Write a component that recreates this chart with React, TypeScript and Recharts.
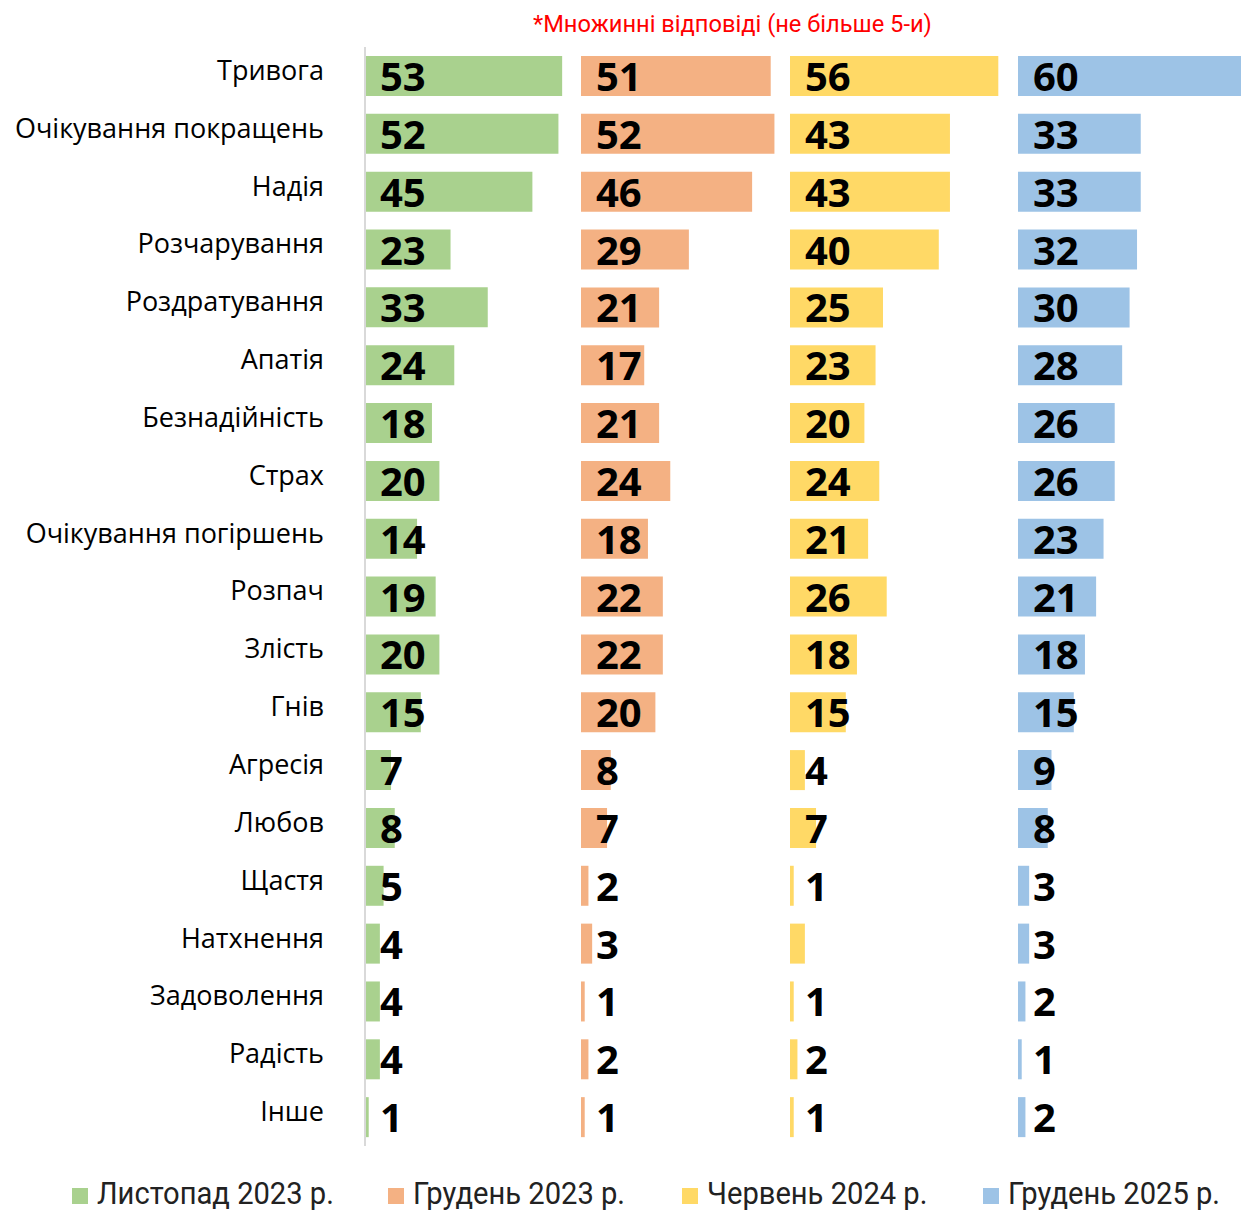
import React from 'react'
import { BarChart, Bar, XAxis, YAxis, LabelList } from 'recharts'

const categories = [
  'Тривога', 'Очікування покращень', 'Надія', 'Розчарування', 'Роздратування', 'Апатія',
  'Безнадійність', 'Страх', 'Очікування погіршень', 'Розпач', 'Злість', 'Гнів', 'Агресія',
  'Любов', 'Щастя', 'Натхнення', 'Задоволення', 'Радість', 'Інше',
]

const nov2023 = [53, 52, 45, 23, 33, 24, 18, 20, 14, 19, 20, 15, 7, 8, 5, 4, 4, 4, 1]
const dec2023 = [51, 52, 46, 29, 21, 17, 21, 24, 18, 22, 22, 20, 8, 7, 2, 3, 1, 2, 1]
const jun2024 = [56, 43, 43, 40, 25, 23, 20, 24, 21, 26, 18, 15, 4, 7, 1, 4, 1, 2, 1]
const dec2025 = [60, 33, 33, 32, 30, 28, 26, 26, 23, 21, 18, 15, 9, 8, 3, 3, 2, 1, 2]

// the June 2024 bar for "Натхнення" has no value label in the original
const jun2024NoLabel = ['Натхнення']

const seriesNames = ['Листопад 2023 р.', 'Грудень 2023 р.', 'Червень 2024 р.', 'Грудень 2025 р.']
const COLORS = ['#a9d18e', '#f4b183', '#ffd966', '#9dc3e6']

const K = 3.72 // px per percent
const CHART_H = 1160
const MARGIN = { top: 47, right: 0, bottom: 14, left: 0 }
const LABEL_W = 365

const panels = [
  { values: nov2023, left: 0, max: 56, hidden: [] as string[] },
  { values: dec2023, left: 581, max: 55, hidden: [] as string[] },
  { values: jun2024, left: 790, max: 60, hidden: jun2024NoLabel },
  { values: dec2025, left: 1018, max: 60, hidden: [] as string[] },
]

const valueFont = '"Open Sans", sans-serif'
const textFont = '"Open Sans", sans-serif'
const condFont = 'Roboto, sans-serif'

function CategoryTick({ y, payload }: any) {
  return (
    <text x={324} y={y + 4} textAnchor="end" fontFamily={textFont} fontSize={27} fill="#000">
      {payload.value}
    </text>
  )
}

function Panel({ idx }: { idx: number }) {
  const p = panels[idx]
  const withAxis = idx === 0
  const data = categories.map((name, i) => ({ name, value: p.values[i] }))
  const width = (withAxis ? LABEL_W : 0) + p.max * K
  const renderLabel = (props: any) => {
    const { x, y, height, value, index } = props
    if (p.hidden.includes(categories[index])) return null
    return (
      <text x={x + 15} y={y + height / 2 + 15} fontFamily={valueFont} fontWeight={700} fontSize={40} fill="#000">
        {value}
      </text>
    )
  }
  return (
    <div style={{ position: 'absolute', left: p.left, top: 0 }}>
      <BarChart width={width} height={CHART_H} data={data} layout="vertical" margin={MARGIN}>
        <XAxis type="number" domain={[0, p.max]} hide />
        <YAxis
          type="category"
          dataKey="name"
          hide={!withAxis}
          width={withAxis ? LABEL_W : 0}
          tick={<CategoryTick />}
          tickLine={false}
          axisLine={{ stroke: '#d9d9d9', strokeWidth: 2 }}
          interval={0}
        />
        <Bar dataKey="value" fill={COLORS[idx]} barSize={40} isAnimationActive={false}>
          <LabelList dataKey="value" content={renderLabel} />
        </Bar>
      </BarChart>
    </div>
  )
}

const legendPos = [72, 388, 682, 983]

export default function App() {
  return (
    <div style={{ position: 'relative', width: 1241, height: 1213, background: '#fff', overflow: 'hidden' }}>
      <style>{'body{margin:0}'}</style>
      <div
        style={{
          position: 'absolute', left: 533, top: 10, fontFamily: condFont, fontSize: 24, lineHeight: '28px',
          color: '#ff0000', transform: 'scaleX(0.985)', transformOrigin: 'left top', whiteSpace: 'nowrap',
        }}
      >
        *Множинні відповіді (не більше 5-и)
      </div>
      {panels.map((_, i) => (
        <Panel key={i} idx={i} />
      ))}
      {seriesNames.map((name, i) => (
        <div key={name} style={{ position: 'absolute', left: legendPos[i], top: 1177, display: 'flex', alignItems: 'center' }}>
          <div style={{ width: 16, height: 16, background: COLORS[i], marginRight: 9, marginTop: 5 }} />
          <div
            style={{
              fontFamily: condFont, fontSize: 32, lineHeight: '32px', color: '#222', whiteSpace: 'nowrap',
              transform: 'scaleX(0.91)', transformOrigin: 'left center',
            }}
          >
            {name}
          </div>
        </div>
      ))}
    </div>
  )
}
